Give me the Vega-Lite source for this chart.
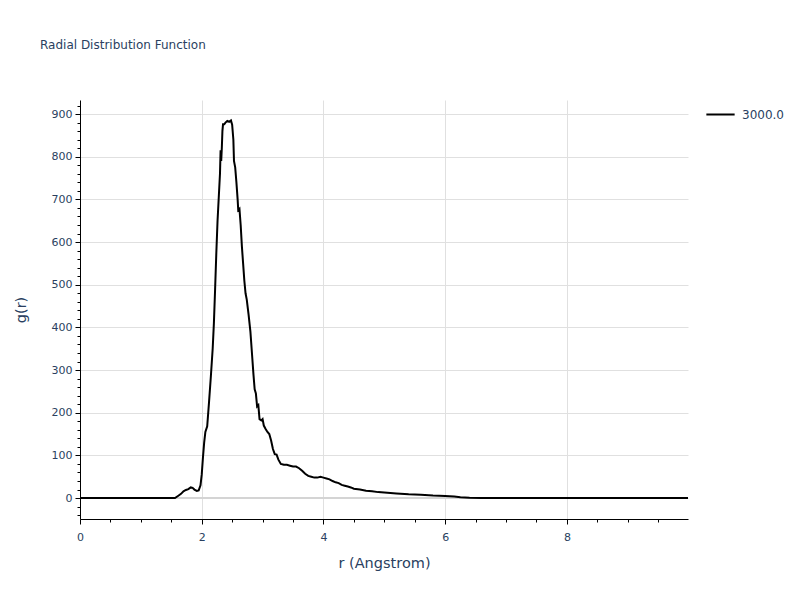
{
  "$schema": "https://vega.github.io/schema/vega-lite/v6.json",
  "width": 608,
  "height": 419,
  "autosize": {"type": "none"},
  "padding": {"left": 80, "top": 100, "right": 112, "bottom": 81},
  "background": "white",
  "config": {
    "view": {"stroke": null},
    "font": "DejaVu Sans",
    "axis": {"labelFont": "DejaVu Sans", "titleFont": "DejaVu Sans", "labelColor": "#2a3f5f", "titleColor": "#2a3f5f", "labelFontSize": 11, "titleFontSize": 14.5, "titleFontWeight": "normal"}
  },
  "title": {"text": "Radial Distribution Function", "anchor": "start", "frame": "group", "dx": -40, "offset": 47, "fontSize": 12, "fontWeight": "normal", "color": "#2a3f5f", "font": "DejaVu Sans"},
  "datasets": {
    "rdf": [
      {"r": 0, "g": 0}, {"r": 0.5, "g": 0}, {"r": 1.0, "g": 0}, {"r": 1.5, "g": 0}, {"r": 1.56, "g": 0},
      {"r": 1.61, "g": 5}, {"r": 1.66, "g": 10}, {"r": 1.70, "g": 16}, {"r": 1.74, "g": 19}, {"r": 1.78, "g": 21},
      {"r": 1.82, "g": 25}, {"r": 1.85, "g": 24}, {"r": 1.88, "g": 20}, {"r": 1.92, "g": 17}, {"r": 1.95, "g": 18},
      {"r": 1.98, "g": 30}, {"r": 2.00, "g": 55}, {"r": 2.02, "g": 95}, {"r": 2.04, "g": 130}, {"r": 2.06, "g": 155},
      {"r": 2.09, "g": 168}, {"r": 2.12, "g": 225}, {"r": 2.15, "g": 285}, {"r": 2.18, "g": 350}, {"r": 2.20, "g": 410},
      {"r": 2.22, "g": 490}, {"r": 2.24, "g": 575}, {"r": 2.26, "g": 650}, {"r": 2.28, "g": 705}, {"r": 2.30, "g": 760},
      {"r": 2.31, "g": 815}, {"r": 2.32, "g": 790}, {"r": 2.33, "g": 820}, {"r": 2.34, "g": 860}, {"r": 2.35, "g": 876},
      {"r": 2.37, "g": 876}, {"r": 2.39, "g": 880}, {"r": 2.42, "g": 884}, {"r": 2.45, "g": 882}, {"r": 2.48, "g": 885},
      {"r": 2.50, "g": 875}, {"r": 2.52, "g": 840}, {"r": 2.53, "g": 790}, {"r": 2.55, "g": 775}, {"r": 2.57, "g": 740},
      {"r": 2.59, "g": 700}, {"r": 2.60, "g": 675}, {"r": 2.62, "g": 678}, {"r": 2.64, "g": 640}, {"r": 2.66, "g": 590},
      {"r": 2.68, "g": 550}, {"r": 2.70, "g": 510}, {"r": 2.72, "g": 480}, {"r": 2.74, "g": 465}, {"r": 2.77, "g": 430},
      {"r": 2.80, "g": 390}, {"r": 2.83, "g": 330}, {"r": 2.85, "g": 290}, {"r": 2.87, "g": 255}, {"r": 2.89, "g": 245},
      {"r": 2.91, "g": 215}, {"r": 2.93, "g": 218}, {"r": 2.95, "g": 185}, {"r": 2.98, "g": 182}, {"r": 3.00, "g": 185},
      {"r": 3.02, "g": 170}, {"r": 3.05, "g": 162}, {"r": 3.08, "g": 155}, {"r": 3.11, "g": 150}, {"r": 3.14, "g": 135},
      {"r": 3.17, "g": 115}, {"r": 3.20, "g": 103}, {"r": 3.23, "g": 102}, {"r": 3.26, "g": 90}, {"r": 3.30, "g": 80},
      {"r": 3.35, "g": 78}, {"r": 3.40, "g": 78}, {"r": 3.45, "g": 76}, {"r": 3.50, "g": 74}, {"r": 3.55, "g": 74},
      {"r": 3.60, "g": 70}, {"r": 3.65, "g": 64}, {"r": 3.70, "g": 57}, {"r": 3.75, "g": 52}, {"r": 3.80, "g": 50},
      {"r": 3.85, "g": 48}, {"r": 3.90, "g": 48}, {"r": 3.95, "g": 50}, {"r": 4.00, "g": 48}, {"r": 4.05, "g": 46},
      {"r": 4.10, "g": 44}, {"r": 4.15, "g": 40}, {"r": 4.20, "g": 37}, {"r": 4.25, "g": 35}, {"r": 4.30, "g": 31},
      {"r": 4.35, "g": 29}, {"r": 4.40, "g": 27}, {"r": 4.45, "g": 25}, {"r": 4.50, "g": 22}, {"r": 4.60, "g": 20},
      {"r": 4.70, "g": 17}, {"r": 4.80, "g": 16}, {"r": 4.90, "g": 14}, {"r": 5.00, "g": 13}, {"r": 5.20, "g": 11},
      {"r": 5.40, "g": 9}, {"r": 5.60, "g": 8}, {"r": 5.80, "g": 6}, {"r": 6.00, "g": 5}, {"r": 6.15, "g": 4},
      {"r": 6.25, "g": 2}, {"r": 6.40, "g": 1}, {"r": 6.60, "g": 0.5}, {"r": 7.00, "g": 0}, {"r": 8.00, "g": 0},
      {"r": 9.00, "g": 0}, {"r": 9.99, "g": 0}
    ],
    "zero": [{"z": 0}]
  },
  "resolve": {"axis": {"x": "independent", "y": "independent"}},
  "layer": [
    {
      "data": {"name": "rdf"},
      "mark": {"type": "line", "opacity": 0},
      "encoding": {
        "x": {"field": "r", "type": "quantitative", "scale": {"domain": [0, 9.99], "nice": false, "zero": false},
          "axis": {"orient": "bottom", "values": [0.5, 1, 1.5, 2.5, 3, 3.5, 4.5, 5, 5.5, 6.5, 7, 7.5, 8.5, 9, 9.5], "labels": false, "grid": false, "domain": false, "tickColor": "#000", "tickSize": 3, "title": null}},
        "y": {"field": "g", "type": "quantitative", "scale": {"domain": [-49, 933], "nice": false, "zero": false},
          "axis": {"orient": "left", "values": [-40, -20, 20, 40, 60, 80, 120, 140, 160, 180, 220, 240, 260, 280, 320, 340, 360, 380, 420, 440, 460, 480, 520, 540, 560, 580, 620, 640, 660, 680, 720, 740, 760, 780, 820, 840, 860, 880, 920], "labels": false, "grid": false, "domain": false, "tickColor": "#000", "tickSize": 3, "title": null}}
      }
    },
    {
      "data": {"name": "zero"},
      "mark": {"type": "rule", "color": "#d4d4d4", "strokeWidth": 2},
      "encoding": {
        "y": {"field": "z", "type": "quantitative", "axis": null}
      }
    },
    {
      "data": {"name": "rdf"},
      "mark": {"type": "line", "strokeWidth": 2, "interpolate": "linear"},
      "encoding": {
        "x": {"field": "r", "type": "quantitative",
          "axis": {"orient": "bottom", "values": [0, 2, 4, 6, 8], "labelFlush": false, "grid": true, "gridColor": "#e0e0e0", "gridWidth": 1, "domainColor": "#000", "domainWidth": 1, "tickColor": "#000", "tickSize": 5, "labelPadding": 7, "title": "r (Angstrom)", "titlePadding": 14}},
        "y": {"field": "g", "type": "quantitative",
          "axis": {"orient": "left", "values": [0, 100, 200, 300, 400, 500, 600, 700, 800, 900], "labelFlush": false, "grid": true, "gridColor": "#e0e0e0", "gridWidth": 1, "domainColor": "#000", "domainWidth": 1, "tickColor": "#000", "tickSize": 5, "labelPadding": 3, "title": "g(r)", "titlePadding": 23}},
        "color": {"datum": "3000.0", "type": "nominal", "scale": {"domain": ["3000.0"], "range": ["#000000"]},
          "legend": {"title": null, "orient": "none", "legendX": 625, "legendY": -1, "symbolType": "stroke", "symbolSize": 800, "symbolStrokeWidth": 2, "labelFontSize": 12, "labelColor": "#2a3f5f", "labelFont": "DejaVu Sans", "labelOffset": 6}}
      }
    }
  ]
}
